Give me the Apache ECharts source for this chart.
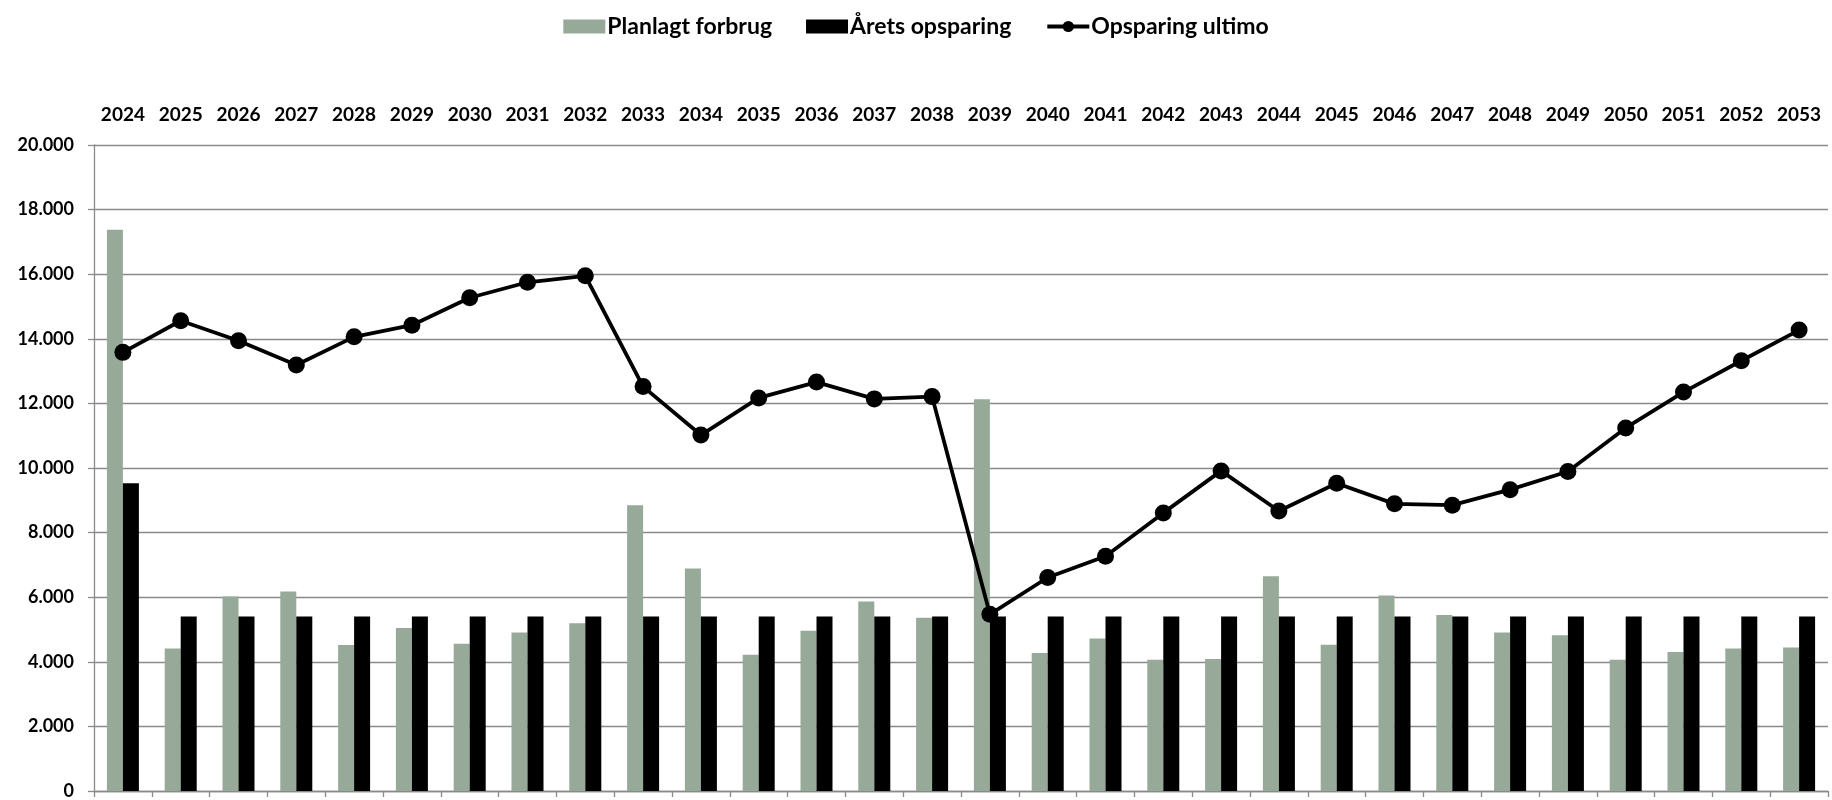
<!DOCTYPE html>
<html>
<head>
<meta charset="utf-8">
<script src="https://cdn.jsdelivr.net/npm/echarts@6/dist/echarts.min.js"></script>
<style>html,body{margin:0;padding:0;background:#fff}#c{width:1832px;height:800px}</style>
</head>
<body>
<div id="c"></div>
<script>
const years = ['2024','2025','2026','2027','2028','2029','2030','2031','2032','2033','2034','2035','2036','2037','2038','2039','2040','2041','2042','2043','2044','2045','2046','2047','2048','2049','2050','2051','2052','2053'];
const planlagtForbrug = [17380,4410,6020,6180,4520,5050,4560,4910,5190,8850,6890,4220,4960,5870,5360,12130,4270,4720,4060,4090,6650,4530,6050,5450,4910,4820,4060,4300,4410,4440];
const aretsOpsparing = [9530,5400,5400,5400,5400,5400,5400,5400,5400,5400,5400,5400,5400,5400,5400,5400,5400,5400,5400,5400,5400,5400,5400,5400,5400,5400,5400,5400,5400,5400];
const opsparingUltimo = [13580,14560,13940,13190,14060,14420,15270,15750,15950,12520,11020,12170,12660,12140,12210,5470,6610,7270,8610,9910,8670,9530,8890,8850,9330,9890,11240,12350,13320,14270];
const yTicks = {min:0, max:20000, interval:2000};

const FONT = 'Lato';
const chart = echarts.init(document.getElementById('c'), null, {renderer:'canvas'});
const fmt = v => String(v).replace(/\B(?=(\d{3})+(?!\d))/g, '.');
chart.setOption({
  animation:false,
  textStyle:{fontFamily:FONT},
  legend:{
    left:'center', top:10, itemWidth:42, itemHeight:14, itemGap:34,
    textStyle:{fontFamily:FONT, fontWeight:'bold', fontSize:23, color:'#000', padding:[0,0,0,-3]},
    data:[
      {name:'Planlagt forbrug', icon:'rect'},
      {name:'Årets opsparing', icon:'rect'},
      {name:'Opsparing ultimo', lineStyle:{width:4, color:'#000'}}
    ]
  },
  grid:{left:94, right:4, top:145, bottom:4, containLabel:false},
  xAxis:[
    {type:'category', data:years, position:'bottom',
     axisLine:{show:true, lineStyle:{color:'#8a8a8a', width:1.3}},
     axisTick:{show:true, length:6, lineStyle:{color:'#8a8a8a', width:1.3}},
     axisLabel:{show:false}, splitLine:{show:false}},
    {type:'category', data:years, position:'top',
     axisLine:{show:false}, axisTick:{show:false},
     axisLabel:{show:true, margin:21, fontFamily:FONT, fontWeight:'bold', fontSize:19, color:'#000', interval:0},
     splitLine:{show:false}}
  ],
  yAxis:{type:'value', min:yTicks.min, max:yTicks.max, interval:yTicks.interval,
    axisLine:{show:true, lineStyle:{color:'#8a8a8a', width:1.3}},
    axisTick:{show:true, length:6, lineStyle:{color:'#8a8a8a', width:1.3}},
    axisLabel:{margin:20, fontFamily:FONT, fontWeight:'bold', fontSize:18, color:'#000', formatter:fmt},
    splitLine:{show:true, lineStyle:{color:'#8a8a8a', width:1.3}}
  },
  series:[
    {name:'Planlagt forbrug', type:'bar', data:planlagtForbrug, barWidth:16, barGap:'0%',
     itemStyle:{color:'#97a999'}},
    {name:'Årets opsparing', type:'bar', data:aretsOpsparing, barWidth:16, barGap:'0%',
     itemStyle:{color:'#000'}},
    {name:'Opsparing ultimo', type:'line', data:opsparingUltimo, symbol:'circle', symbolSize:17,
     lineStyle:{color:'#000', width:3.8}, itemStyle:{color:'#000'}, z:5}
  ]
});
</script>
</body>
</html>
